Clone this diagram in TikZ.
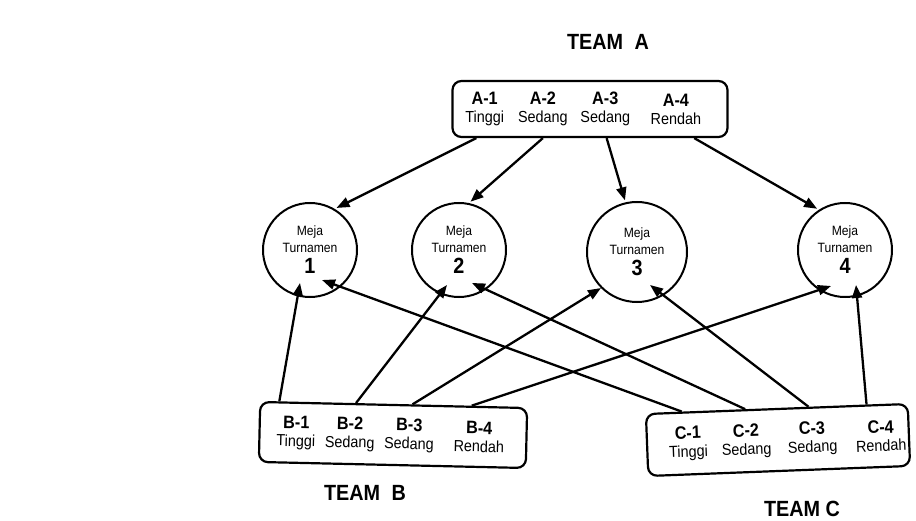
\documentclass[tikz,border=0pt]{standalone}
\usepackage{fontspec}
\setmainfont{Liberation Sans}[FakeStretch=0.9]
\usetikzlibrary{positioning, arrows.meta, calc}

\begin{document}
\begin{tikzpicture}[x=1pt, y=-1pt,
    every node/.style={inner sep=0pt},
    team/.style={font=\fontsize{22}{22}\selectfont\bfseries},
    teambox/.style={draw, line width=2.2pt, rounded corners=9pt},
    slot/.style={align=center, font=\fontsize{16}{17}\selectfont},
    meja/.style={circle, draw, line width=2pt, minimum size=94pt, align=center, font=\fontsize{13.5}{17}\selectfont},
    arr/.style={line width=2.3pt, -{Triangle[length=13pt,width=10pt]}}]
    \useasboundingbox (0,0) rectangle (916,521);

    \node[team] (teamA) at (608,42) {TEAM\hspace{6pt} A};
    \node[team] (teamB) at (365,493) {TEAM\hspace{6pt} B};
    \node[team] (teamC) at (802,509) {TEAM C};

    \node[teambox, minimum width=275pt, minimum height=56pt] (boxA) at (590,109) {};
    \node[teambox, minimum width=267pt, minimum height=60pt, rotate=-1.3] (boxB) at (393,435) {};
    \node[teambox, minimum width=262pt, minimum height=62pt, rotate=2.2] (boxC) at (778,440) {};

    \node[slot] (a1) at ($(boxA.west)!0.12!(boxA.east)$) {{\fontsize{18}{18}\selectfont\bfseries A-1}\\[1pt]Tinggi};
    \node[slot] (a2) at ($(boxA.west)!0.33!(boxA.east)$) {{\fontsize{18}{18}\selectfont\bfseries A-2}\\[1pt]Sedang};
    \node[slot] (a3) at ($(boxA.west)!0.555!(boxA.east)$) {{\fontsize{18}{18}\selectfont\bfseries A-3}\\[1pt]Sedang};
    \node[slot] (a4) at ($(boxA.west)!0.81!(boxA.east)$) {{\fontsize{18}{18}\selectfont\bfseries A-4}\\[1pt]Rendah};

    \node[slot, rotate=-1.3] (b1) at ($(boxB.west)!0.14!(boxB.east)$) {{\fontsize{18}{18}\selectfont\bfseries B-1}\\[1pt]Tinggi};
    \node[slot, rotate=-1.3] (b2) at ($(boxB.west)!0.34!(boxB.east)$) {{\fontsize{18}{18}\selectfont\bfseries B-2}\\[1pt]Sedang};
    \node[slot, rotate=-1.3] (b3) at ($(boxB.west)!0.56!(boxB.east)$) {{\fontsize{18}{18}\selectfont\bfseries B-3}\\[1pt]Sedang};
    \node[slot, rotate=-1.3] (b4) at ($(boxB.west)!0.82!(boxB.east)$) {{\fontsize{18}{18}\selectfont\bfseries B-4}\\[1pt]Rendah};

    \node[slot, rotate=2.2] (c1) at ($(boxC.west)!0.16!(boxC.east)$) {{\fontsize{18}{18}\selectfont\bfseries C-1}\\[1pt]Tinggi};
    \node[slot, rotate=2.2] (c2) at ($(boxC.west)!0.38!(boxC.east)$) {{\fontsize{18}{18}\selectfont\bfseries C-2}\\[1pt]Sedang};
    \node[slot, rotate=2.2] (c3) at ($(boxC.west)!0.63!(boxC.east)$) {{\fontsize{18}{18}\selectfont\bfseries C-3}\\[1pt]Sedang};
    \node[slot, rotate=2.2] (c4) at ($(boxC.west)!0.89!(boxC.east)$) {{\fontsize{18}{18}\selectfont\bfseries C-4}\\[1pt]Rendah};

    \node[meja] (t1) at (310,250) {Meja\\Turnamen\\[4pt]{\fontsize{22}{22}\selectfont\bfseries 1}};
    \node[meja] (t2) at (459,250) {Meja\\Turnamen\\[4pt]{\fontsize{22}{22}\selectfont\bfseries 2}};
    \node[meja, minimum size=100pt] (t3) at (637,252) {Meja\\Turnamen\\[4pt]{\fontsize{22}{22}\selectfont\bfseries 3}};
    \node[meja] (t4) at (845,250) {Meja\\Turnamen\\[4pt]{\fontsize{22}{22}\selectfont\bfseries 4}};

    \draw[arr, shorten >=2pt] ($(boxA.south west)!0.09!(boxA.south east)$) -- (t1.59);
    \draw[arr, shorten >=2pt] ($(boxA.south west)!0.33!(boxA.south east)$) -- (t2.78);
    \draw[arr, shorten >=2pt] ($(boxA.south west)!0.56!(boxA.south east)$) -- (t3.103);
    \draw[arr, shorten >=2pt] ($(boxA.south west)!0.876!(boxA.south east)$) -- (t4.123);

    \draw[arr] ($(boxB.north west)!0.075!(boxB.north east)$) -- ($(t1)+(-10,33)$);
    \draw[arr] ($(boxB.north west)!0.36!(boxB.north east)$) -- ($(t2)+(-12,35)$);
    \draw[arr] ($(boxB.north west)!0.57!(boxB.north east)$) -- (t3.225);
    \draw[arr] ($(boxB.north west)!0.79!(boxB.north east)$) -- ($(t4)+(-14,36)$);

    \draw[arr] ($(boxC.north west)!0.14!(boxC.north east)$) -- ($(t1)+(12,30)$);
    \draw[arr] ($(boxC.north west)!0.38!(boxC.north east)$) -- ($(t2)+(13,33)$);
    \draw[arr] ($(boxC.north west)!0.62!(boxC.north east)$) -- ($(t3)+(13,33)$);
    \draw[arr] ($(boxC.north west)!0.84!(boxC.north east)$) -- ($(t4)+(11,35)$);
\end{tikzpicture}
\end{document}
